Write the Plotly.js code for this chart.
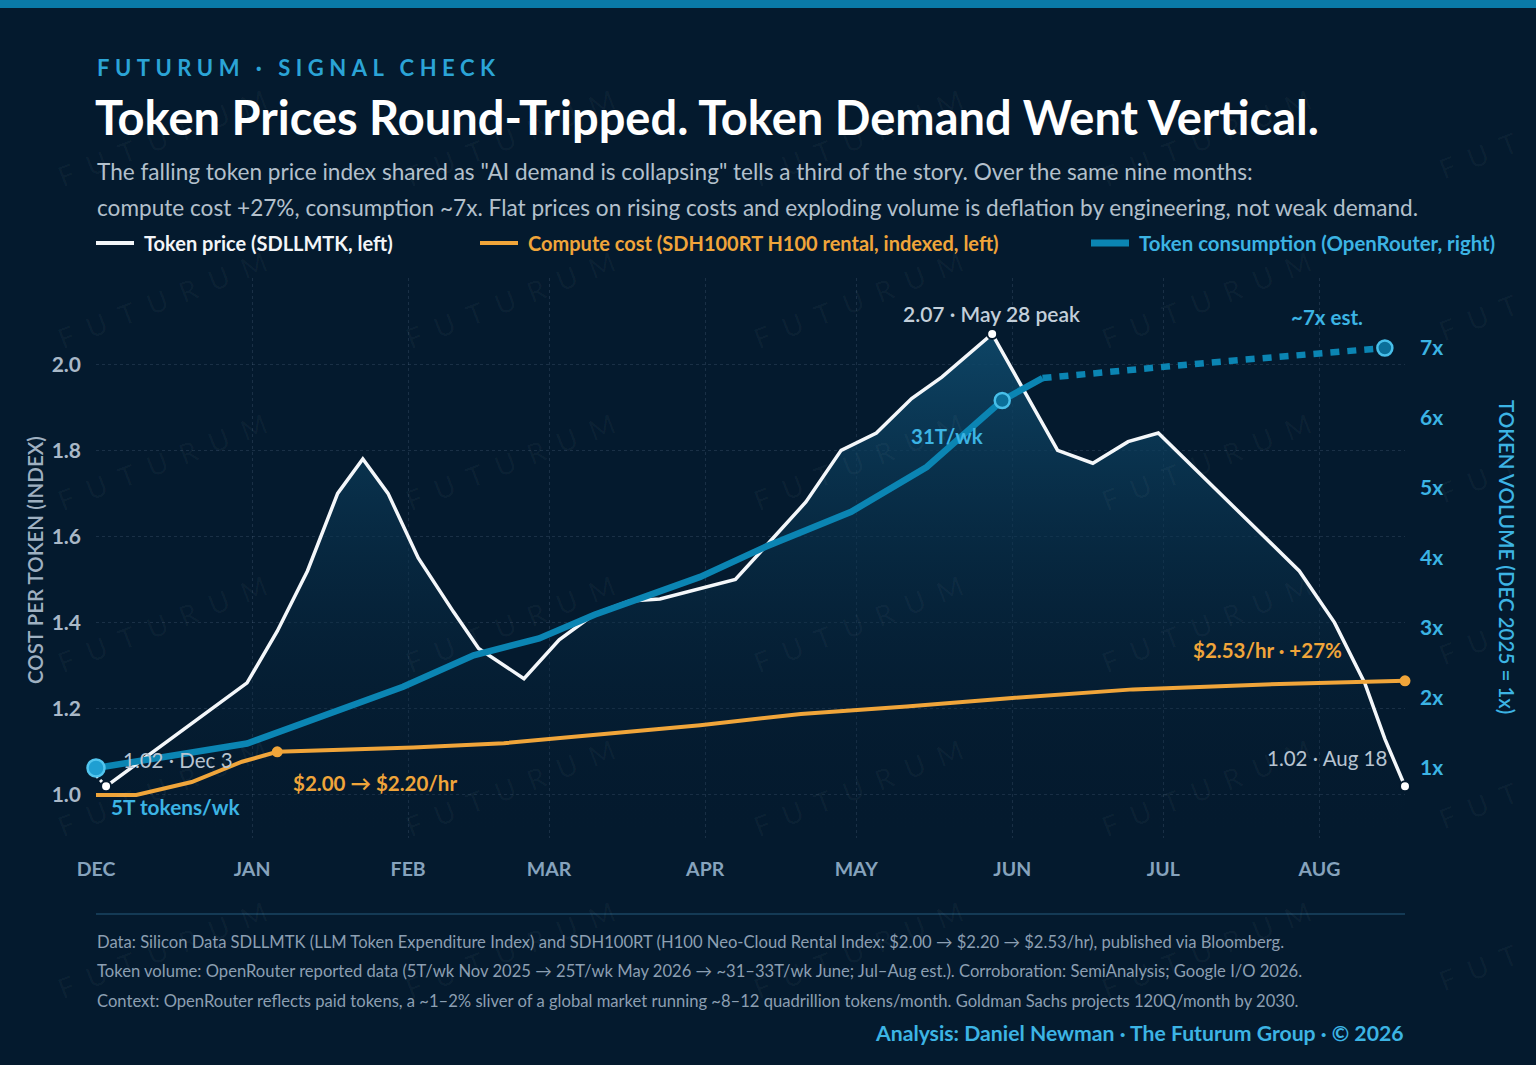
<!DOCTYPE html>
<html><head><meta charset="utf-8">
<script src="https://cdn.plot.ly/plotly-3.0.1.min.js"></script>
<style>
html,body{margin:0;padding:0;background:#041a2e;}
#chart{width:1536px;height:1065px;}
</style></head>
<body><div id="chart"></div>
<script>
// ---------- DATA ----------
const priceDates = ['2025-12-03','2025-12-31','2026-01-06','2026-01-12','2026-01-18','2026-01-23','2026-01-28','2026-02-03','2026-02-10','2026-02-15','2026-02-24','2026-03-03','2026-03-10','2026-03-17','2026-03-23','2026-04-07','2026-04-14','2026-04-21','2026-04-28','2026-05-05','2026-05-12','2026-05-18','2026-05-28','2026-06-10','2026-06-17','2026-06-24','2026-06-30','2026-07-14','2026-07-28','2026-08-04','2026-08-10','2026-08-14','2026-08-18'];
const priceValues = [1.02,1.26,1.38,1.52,1.70,1.78,1.70,1.55,1.425,1.34,1.27,1.36,1.42,1.45,1.455,1.50,1.59,1.68,1.80,1.84,1.92,1.97,2.07,1.80,1.77,1.82,1.84,1.68,1.52,1.40,1.26,1.13,1.02];
const priceLeadDates = ['2025-12-01','2025-12-03'];
const priceLeadValues = [1.045,1.02];
const priceMarkIdx = [0,22,32];

const costDates = ['2025-12-01','2025-12-09','2025-12-20','2025-12-30','2026-01-06','2026-02-02','2026-02-20','2026-03-31','2026-04-20','2026-05-11','2026-06-01','2026-06-25','2026-07-20','2026-08-18'];
const costValues = [1.00,1.00,1.03,1.077,1.10,1.11,1.12,1.162,1.188,1.205,1.225,1.245,1.256,1.265];
const costMarkIdx = [4,13];

const volDates = ['2025-12-01','2025-12-31','2026-01-31','2026-02-14','2026-02-27','2026-03-10','2026-03-31','2026-04-13','2026-04-30','2026-05-15','2026-05-30','2026-06-07'];
const volValues = [1.0,1.35,2.16,2.61,2.85,3.19,3.73,4.16,4.66,5.30,6.25,6.57];
const volEstDates = ['2026-06-07','2026-07-10','2026-08-14'];
const volEstValues = [6.57,6.79,7.0];

const monthTicks = ['2025-12-01','2026-01-01','2026-02-01','2026-03-01','2026-04-01','2026-05-01','2026-06-01','2026-07-01','2026-08-01'];
const monthLabels = ['DEC','JAN','FEB','MAR','APR','MAY','JUN','JUL','AUG'];
const leftTicks = [1.0,1.2,1.4,1.6,1.8,2.0];
const leftLabels = ['1.0','1.2','1.4','1.6','1.8','2.0'];
const rightTicks = [1,2,3,4,5,6,7];
const rightLabels = ['1x','2x','3x','4x','5x','6x','7x'];

// ---------- STYLE / GEOMETRY ----------
const BG = '#041a2e';
const WHITE = '#f4f7fa', ORANGE = '#f0a53a', BLUE = '#0b85b3', LBLUE = '#3cb4e4', GRAY = '#b7c4d1';
const FONT = 'Lato, "Noto Sans", sans-serif';
const L = 96, R = 1405, T = 278, B = 838;
const px = x => (x - L) / (R - L);
const py = y => (B - y) / (B - T);

function ann(text, x, y, o) {
  o = o || {};
  return {
    text: text, xref: 'paper', yref: 'paper', x: px(x), y: py(y),
    xanchor: o.xa || 'left', yanchor: 'middle', align: o.align || (o.xa || 'left'),
    showarrow: false, textangle: o.angle || 0, borderpad: 0,
    font: {family: FONT, size: o.size || 20.5, color: o.color || GRAY, weight: o.weight || 400}
  };
}

const annotations = [
  ann('FUTURUM · SIGNAL CHECK', 96, 67, {size: 22, weight: 700, color: '#2ba4d6'}),
  ann('Token Prices Round-Tripped. Token Demand Went Vertical.', 94, 117, {size: 47, weight: 700, color: '#ffffff'}),
  ann('The falling token price index shared as "AI demand is collapsing" tells a third of the story. Over the same nine months:', 96, 171, {size: 22.6, color: '#b3c0cc'}),
  ann('compute cost +27%, consumption ~7x. Flat prices on rising costs and exploding volume is deflation by engineering, not weak demand.', 96, 207, {size: 22.6, color: '#b3c0cc'}),
  ann('Token price (SDLLMTK, left)', 143, 243, {size: 20, weight: 700, color: '#f2f5f8'}),
  ann('Compute cost (SDH100RT H100 rental, indexed, left)', 527, 243, {size: 20, weight: 700, color: ORANGE}),
  ann('Token consumption (OpenRouter, right)', 1138, 243, {size: 20.4, weight: 700, color: LBLUE}),
  ann('1.02 · Dec 3', 122, 760, {color: GRAY}),
  ann('5T tokens/wk', 110, 806, {size: 20.8, weight: 700, color: LBLUE}),
  ann('$2.00 → $2.20/hr', 292, 783, {weight: 700, color: ORANGE}),
  ann('2.07 · May 28 peak', 991, 313, {xa: 'center', size: 21, weight: 600, color: '#c3cfda'}),
  ann('31T/wk', 947, 436, {xa: 'center', weight: 700, color: LBLUE}),
  ann('~7x est.', 1327, 317, {xa: 'center', weight: 700, color: LBLUE}),
  ann('$2.53/hr · +27%', 1343, 650, {xa: 'right', weight: 700, color: ORANGE}),
  ann('1.02 · Aug 18', 1388, 758, {xa: 'right', color: GRAY}),
  ann('COST PER TOKEN (INDEX)', 35, 560, {xa: 'center', angle: -90, size: 20.5, weight: 600, color: '#9fb0c1'}),
  ann('TOKEN VOLUME (DEC 2025 = 1x)', 1507, 557, {xa: 'center', angle: 90, size: 20.5, weight: 600, color: LBLUE}),
  ann('Data: Silicon Data SDLLMTK (LLM Token Expenditure Index) and SDH100RT (H100 Neo-Cloud Rental Index: $2.00 → $2.20 → $2.53/hr), published via Bloomberg.', 96, 942, {size: 16.6, color: '#8c9fb2'}),
  ann('Token volume: OpenRouter reported data (5T/wk Nov 2025 → 25T/wk May 2026 → ~31–33T/wk June; Jul–Aug est.). Corroboration: SemiAnalysis; Google I/O 2026.', 96, 971, {size: 16.6, color: '#8c9fb2'}),
  ann('Context: OpenRouter reflects paid tokens, a ~1–2% sliver of a global market running ~8–12 quadrillion tokens/month. Goldman Sachs projects 120Q/month by 2030.', 96, 1001, {size: 16.6, color: '#8c9fb2'}),
  ann('Analysis: Daniel Newman · The Futurum Group · © 2026', 1405, 1033, {xa: 'right', size: 21.2, weight: 700, color: LBLUE})
];
// watermark grid (last column only shows its first letters at the page edge)
const wmRows = [135, 297, 459, 621, 785, 947];
[169, 517, 865, 1213].forEach(cx => {
  wmRows.forEach(cy => {
    annotations.push(ann('FUTURUM', cx, cy, {xa: 'center', angle: -21, size: 28, color: 'rgba(255,255,255,0.035)'}));
  });
});
wmRows.forEach(cy => {
  annotations.push(ann('FUT', 1484, cy + 18, {xa: 'center', angle: -21, size: 28, color: 'rgba(255,255,255,0.035)'}));
});

const shapes = [
  {type: 'rect', xref: 'paper', yref: 'paper', x0: px(0), x1: px(1536), y0: py(0), y1: py(8), fillcolor: '#0a7aa8', line: {width: 0}, layer: 'above'},
  {type: 'line', xref: 'paper', yref: 'paper', x0: px(96), x1: px(134), y0: py(243), y1: py(243), line: {color: '#f2f5f8', width: 4}},
  {type: 'line', xref: 'paper', yref: 'paper', x0: px(480), x1: px(518), y0: py(243), y1: py(243), line: {color: ORANGE, width: 4}},
  {type: 'line', xref: 'paper', yref: 'paper', x0: px(1091), x1: px(1129), y0: py(243), y1: py(243), line: {color: BLUE, width: 7}},
  {type: 'line', xref: 'paper', yref: 'paper', x0: px(96), x1: px(1405), y0: py(914), y1: py(914), line: {color: '#143a55', width: 2}}
];

const pick = (arr, idx) => idx.map(i => arr[i]);

const data = [
  {x: priceDates, y: priceValues, type: 'scatter', mode: 'lines', line: {color: WHITE, width: 3.5},
   fill: 'tozeroy', fillgradient: {type: 'vertical', colorscale: [[0, 'rgba(4,26,46,0)'], [1, 'rgba(14,72,106,0.92)']], start: 0.9, stop: 2.07},
   hoverinfo: 'skip'},
  {x: priceLeadDates, y: priceLeadValues, type: 'scatter', mode: 'lines', line: {color: WHITE, width: 3, dash: '3px,3px'}, hoverinfo: 'skip'},
  {x: costDates, y: costValues, type: 'scatter', mode: 'lines', line: {color: ORANGE, width: 4}, hoverinfo: 'skip'},
  {x: volDates, y: volValues, yaxis: 'y2', type: 'scatter', mode: 'lines', line: {color: BLUE, width: 6.5}, hoverinfo: 'skip'},
  {x: volEstDates, y: volEstValues, yaxis: 'y2', type: 'scatter', mode: 'lines', line: {color: BLUE, width: 6.5, dash: '9px,8px'}, hoverinfo: 'skip'},
  {x: pick(priceDates, priceMarkIdx), y: pick(priceValues, priceMarkIdx), type: 'scatter', mode: 'markers', cliponaxis: false,
   marker: {size: 10, color: '#ffffff', line: {color: BG, width: 2}}, hoverinfo: 'skip'},
  {x: pick(costDates, costMarkIdx), y: pick(costValues, costMarkIdx), type: 'scatter', mode: 'markers', cliponaxis: false,
   marker: {size: 11, color: ORANGE, line: {width: 0}}, hoverinfo: 'skip'},
  {x: [volDates[0]], y: [volValues[0]], yaxis: 'y2', type: 'scatter', mode: 'markers', cliponaxis: false,
   marker: {size: 17, color: '#1f9fd2', line: {color: '#52c5ee', width: 2.5}}, hoverinfo: 'skip'},
  {x: [volDates[10], volEstDates[2]], y: [volValues[10], volEstValues[2]], yaxis: 'y2', type: 'scatter', mode: 'markers', cliponaxis: false,
   marker: {size: 15, color: '#0b6f99', line: {color: '#48bfe9', width: 2.5}}, hoverinfo: 'skip'}
];

const layout = {
  width: 1536, height: 1065,
  paper_bgcolor: BG, plot_bgcolor: BG,
  margin: {l: L, r: 1536 - R, t: T, b: 1065 - B, pad: 0},
  showlegend: false,
  font: {family: FONT},
  xaxis: {
    type: 'date', range: ['2025-12-01', '2026-08-18'], fixedrange: true,
    tickmode: 'array', tickvals: monthTicks, ticktext: monthLabels,
    showgrid: true, gridcolor: 'rgba(140,170,200,0.16)', griddash: 'dot', gridwidth: 1,
    zeroline: false, showline: false, ticks: '', ticklabelstandoff: 17,
    tickfont: {family: FONT, size: 19.5, color: '#86a3bd', weight: 700}
  },
  yaxis: {
    range: [0.9, 2.2], fixedrange: true,
    tickmode: 'array', tickvals: leftTicks, ticktext: leftLabels,
    showgrid: true, gridcolor: 'rgba(140,170,200,0.16)', griddash: 'dot', gridwidth: 1,
    zeroline: false, showline: false, ticks: '', ticklabelstandoff: 14,
    tickfont: {family: FONT, size: 21, color: '#a9b8c7', weight: 700}
  },
  yaxis2: {
    overlaying: 'y', side: 'right', range: [0, 8], fixedrange: true,
    tickmode: 'array', tickvals: rightTicks, ticktext: rightLabels,
    showgrid: false, zeroline: false, showline: false, ticks: '', ticklabelstandoff: 14,
    tickfont: {family: FONT, size: 21, color: LBLUE, weight: 700}
  },
  annotations: annotations,
  shapes: shapes
};

Plotly.newPlot('chart', data, layout, {staticPlot: true, displayModeBar: false}).then(gd => {
  gd.querySelectorAll('.annotation').forEach(g => {
    const t = g.querySelector('.annotation-text');
    if (!t) return;
    const s = t.textContent;
    if (s === 'FUTURUM' || s === 'FUT') t.style.letterSpacing = '14px';
    else if (s.indexOf('FUTURUM ·') === 0) t.style.letterSpacing = '5.5px';
  });
});
</script>
</body></html>
